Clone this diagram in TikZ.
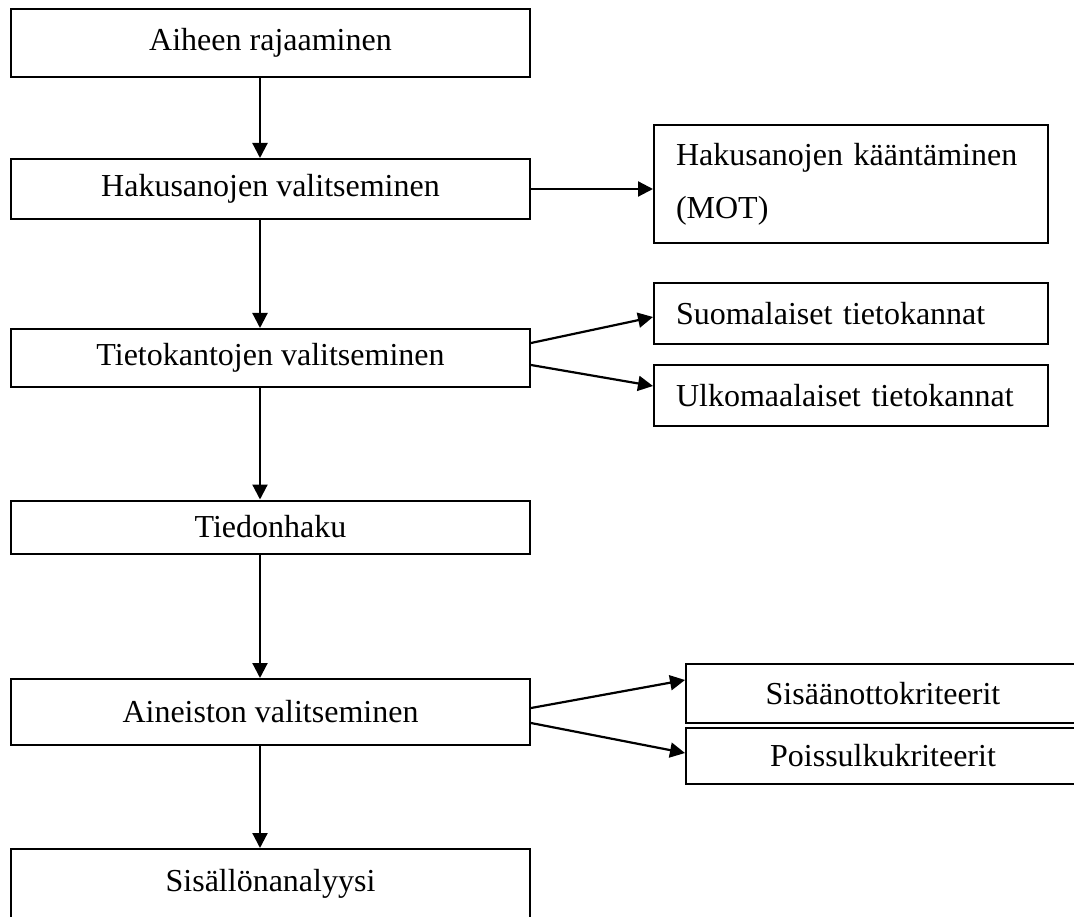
\documentclass[tikz,border=0pt]{standalone}
\usepackage{fontspec}
\setmainfont{Liberation Serif}
\usetikzlibrary{arrows.meta,calc}

\tikzset{
  phase/.style={draw, line width=2pt, minimum width=519pt, inner sep=0pt, font=\fontsize{32}{53}\selectfont},
  sidebox/.style={draw, line width=2pt, minimum width=394pt, inner sep=0pt, text width=350pt, align=left, font=\fontsize{32}{53}\selectfont},
  critbox/.style={draw, line width=2pt, minimum width=394pt, inner sep=0pt, font=\fontsize{32}{53}\selectfont},
  flow/.style={line width=2.2pt, -{Triangle[length=15pt,width=15pt]}}
}

\begin{document}
\begin{tikzpicture}[x=1pt,y=1pt,yscale=-1,xscale=1]
\useasboundingbox (0,0) rectangle (1074,917);

%Main phases
\node [phase, minimum height=68pt] (aihe) at (270.5,43) {Aiheen rajaaminen};
\node [phase, minimum height=60pt] (haku) at (270.5,189) {Hakusanojen valitseminen};
\node [phase, minimum height=58pt] (tieto) at (270.5,358) {Tietokantojen valitseminen};
\node [phase, minimum height=53pt] (tiedon) at (270.5,527) {Tiedonhaku};
\node [phase, minimum height=66pt] (aineisto) at (270.5,712) {Aineiston valitseminen};
\node [phase, minimum height=70pt] (analyysi) at (270.5,884) {Sisällönanalyysi};

%Side boxes
\node [sidebox, minimum height=118pt] (mot) at (851,184) {Hakusanojen kääntäminen\\(MOT)};
\node [sidebox, minimum height=61pt] (suomi) at (851,313.5) {Suomalaiset tietokannat};
\node [sidebox, minimum height=61pt] (ulko) at (851,395.5) {Ulkomaalaiset tietokannat};
\node [critbox, minimum height=59pt] (sisaan) at (883,693.5) {Sisäänottokriteerit};
\node [critbox, minimum height=56pt] (poissulku) at (883,756) {Poissulkukriteerit};

%Spine of the vertical arrows
\coordinate (spine) at (260,0);

%Vertical arrows
\draw [flow] (aihe.south -| spine) -- (haku.north -| spine);
\draw [flow] (haku.south -| spine) -- (tieto.north -| spine);
\draw [flow] (tieto.south -| spine) -- (tiedon.north -| spine);
\draw [flow] (tiedon.south -| spine) -- (aineisto.north -| spine);
\draw [flow] (aineisto.south -| spine) -- (analyysi.north -| spine);

%Side arrows
\draw [flow] (haku.east) -- (haku.east -| mot.west);
\draw [flow] ($(tieto.east)+(0,-15)$) -- ($(suomi.west)+(0,3.5)$);
\draw [flow] ($(tieto.east)+(0,7)$) -- ($(ulko.west)+(0,-9.5)$);
\draw [flow] ($(aineisto.east)+(0,-4)$) -- ($(sisaan.west)+(0,-13.5)$);
\draw [flow] ($(aineisto.east)+(0,11)$) -- ($(poissulku.west)+(0,-3)$);

\end{tikzpicture}
\end{document}
